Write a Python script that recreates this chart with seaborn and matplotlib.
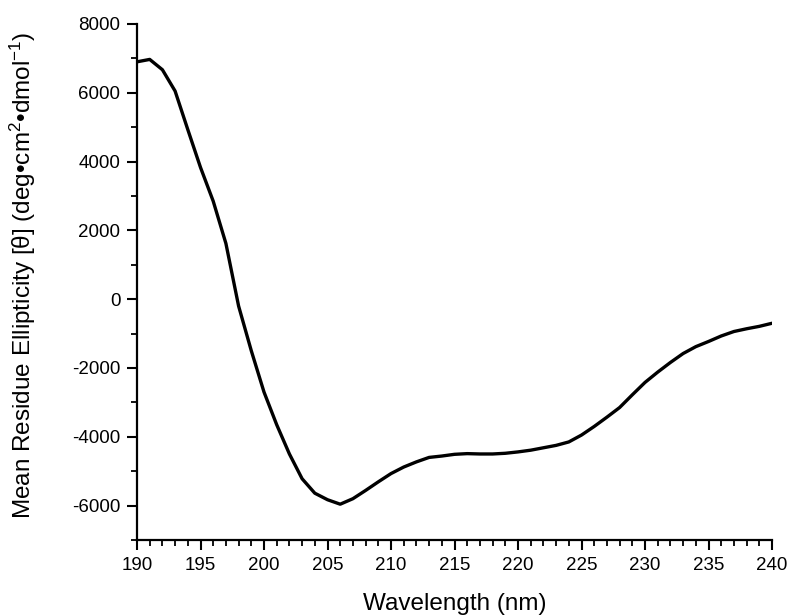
import matplotlib
matplotlib.use("Agg")
import matplotlib.pyplot as plt
from matplotlib.ticker import MultipleLocator
import seaborn as sns
import pandas as pd

# Far-UV CD spectrum (mean residue ellipticity vs wavelength)
wavelength = [190, 191, 192, 193, 194, 195, 196, 197, 198, 199,
              200, 201, 202, 203, 204, 205, 206, 207, 208, 209,
              210, 211, 212, 213, 214, 215, 216, 217, 218, 219,
              220, 221, 222, 223, 224, 225, 226, 227, 228, 229,
              230, 231, 232, 233, 234, 235, 236, 237, 238, 239, 240]
ellipticity = [6900, 6970, 6670, 6050, 4930, 3830, 2850, 1620, -200, -1500,
               -2700, -3650, -4500, -5220, -5640, -5830, -5960, -5800, -5560, -5310,
               -5070, -4880, -4730, -4600, -4560, -4510, -4490, -4500, -4500, -4480,
               -4440, -4390, -4320, -4250, -4150, -3950, -3700, -3430, -3150, -2780,
               -2420, -2120, -1840, -1580, -1380, -1230, -1070, -940, -860, -790, -700]

df = pd.DataFrame({"Wavelength": wavelength, "Ellipticity": ellipticity})

sns.set_theme(style="ticks")
plt.rcParams["font.family"] = ["Liberation Sans", "DejaVu Sans"]
plt.rcParams["mathtext.fontset"] = "custom"
plt.rcParams["mathtext.rm"] = "Liberation Sans"
plt.rcParams["mathtext.it"] = "Liberation Sans:italic"
plt.rcParams["axes.unicode_minus"] = False

fig = plt.figure(figsize=(7.91, 6.15), dpi=100)
ax = fig.add_axes([0.1732, 0.122, 0.8028, 0.839])

sns.lineplot(data=df, x="Wavelength", y="Ellipticity", ax=ax,
             color="black", linewidth=2.4)

ax.set_xlim(190, 240)
ax.set_ylim(-7000, 8000)
ax.xaxis.set_major_locator(MultipleLocator(5))
ax.xaxis.set_minor_locator(MultipleLocator(1))
ax.yaxis.set_major_locator(MultipleLocator(2000))
ax.yaxis.set_minor_locator(MultipleLocator(1000))

sns.despine(ax=ax)
for side in ("left", "bottom"):
    ax.spines[side].set_linewidth(1.6)
    ax.spines[side].set_color("black")

ax.tick_params(which="major", direction="out", length=7, width=1.5,
               color="black", labelsize=13.5, labelcolor="black", pad=5)
ax.tick_params(which="minor", direction="out", length=4, width=1.3,
               color="black")

ax.set_xlabel("Wavelength (nm)", fontsize=17.5, color="black")
ax.set_ylabel("Mean Residue Ellipticity [θ] (deg•cm$^2$•dmol$^{-1}$)",
              fontsize=17.5, color="black")
ax.xaxis.set_label_coords(0.5, -0.103)
ax.yaxis.set_label_coords(-0.156, 0.512)

fig.savefig("out.png", dpi=100, facecolor="white")
